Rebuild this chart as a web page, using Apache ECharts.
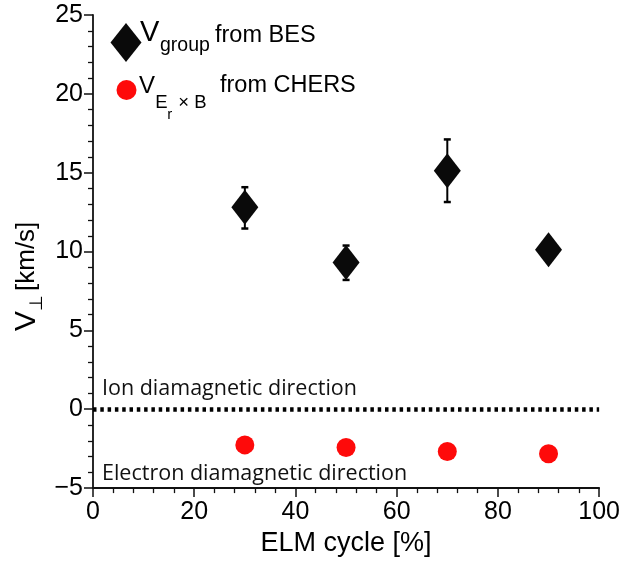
<!DOCTYPE html>
<html>
<head>
<meta charset="utf-8">
<script src="https://cdn.jsdelivr.net/npm/echarts@6/dist/echarts.min.js"></script>
<style>
html,body{margin:0;padding:0;background:#fff;}
#main{width:623px;height:562px;}
</style>
</head>
<body>
<div id="main"></div>
<script>
// ---- data ----
const elmCycle = [30, 50, 70, 90];
const vGroup = [12.81, 9.31, 15.13, 10.11];
const vGroupLow = [11.46, 8.20, 13.14, 10.11];
const vGroupHigh = [14.08, 10.38, 17.11, 10.11];
const vExB = [-2.26, -2.42, -2.68, -2.82];
const xTicks = [0, 20, 40, 60, 80, 100];
const yTicks = [-5, 0, 5, 10, 15, 20, 25];

const chart = echarts.init(document.getElementById('main'), null, {renderer: 'canvas'});
const HELV = "'Liberation Sans', Arial, Helvetica, sans-serif";
const OPEN = "'Open Sans', sans-serif";

const groupData = elmCycle.map((x, i) => [x, vGroup[i]]);
const errData = elmCycle.map((x, i) => [x, vGroupLow[i], vGroupHigh[i]]);
const exbData = elmCycle.map((x, i) => [x, vExB[i]]);

const axisCommon = {
  axisLine: {show: true, onZero: false, lineStyle: {color: '#111', width: 1.8}},
  axisTick: {show: true, inside: false, length: 9, lineStyle: {color: '#111', width: 1.5}},
  minorTick: {show: true, splitNumber: 5, length: 5, lineStyle: {color: '#111', width: 1.3}},
  splitLine: {show: false},
  minorSplitLine: {show: false},
  axisLabel: {color: '#000', fontFamily: HELV, fontSize: 25,
    formatter: function (v) { return String(v).replace('-', '\u2212'); }}
};

chart.setOption({
  animation: false,
  backgroundColor: '#fff',
  grid: {left: 93, right: 21, top: 15, bottom: 68.5, containLabel: false},
  xAxis: Object.assign({}, axisCommon, {
    type: 'value', min: xTicks[0], max: xTicks[xTicks.length - 1], interval: 20,
    axisLabel: Object.assign({}, axisCommon.axisLabel, {margin: 12}),
    name: 'ELM cycle [%]', nameLocation: 'middle', nameGap: 38,
    nameTextStyle: {color: '#000', fontFamily: HELV, fontSize: 27}
  }),
  yAxis: Object.assign({}, axisCommon, {
    type: 'value', min: yTicks[0], max: yTicks[yTicks.length - 1], interval: 5,
    axisLabel: Object.assign({}, axisCommon.axisLabel, {margin: 10})
  }),
  series: [
    {
      type: 'custom', name: 'err', z: 2,
      data: errData,
      renderItem: function (params, api) {
        const x = api.value(0), lo = api.value(1), hi = api.value(2);
        const pLo = api.coord([x, lo]), pHi = api.coord([x, hi]);
        const w = 3.5;
        const st = {stroke: '#000', lineWidth: 2};
        return {type: 'group', children: [
          {type: 'line', shape: {x1: pLo[0], y1: pLo[1], x2: pHi[0], y2: pHi[1]}, style: st},
          {type: 'line', shape: {x1: pLo[0] - w, y1: pLo[1], x2: pLo[0] + w, y2: pLo[1]}, style: {stroke: '#000', lineWidth: 2.5}},
          {type: 'line', shape: {x1: pHi[0] - w, y1: pHi[1], x2: pHi[0] + w, y2: pHi[1]}, style: {stroke: '#000', lineWidth: 2.5}}
        ]};
      }
    },
    {
      type: 'scatter', name: 'Vgroup from BES', z: 3,
      symbol: 'diamond', symbolSize: [27, 35],
      itemStyle: {color: '#0a0a0a', opacity: 1},
      data: groupData
    },
    {
      type: 'scatter', name: 'VExB from CHERS', z: 3,
      symbol: 'circle', symbolSize: 19,
      itemStyle: {color: '#fe0a0a', opacity: 1},
      data: exbData,
      markLine: {
        silent: true, symbol: ['none', 'none'],
        label: {show: false},
        lineStyle: {color: '#000', width: 4.5, type: [3.5, 3.8], cap: 'butt', opacity: 1},
        data: [[{coord: [xTicks[0], 0]}, {coord: [xTicks[xTicks.length - 1], 0]}]]
      }
    }
  ],
  graphic: [
    // y-axis name (rotated)
    {
      type: 'group', x: 27, y: 331, rotation: Math.PI / 2,
      children: [
        {type: 'text', x: 0, y: 0, style: {text: 'V', font: '30px ' + HELV, fill: '#000', verticalAlign: 'middle', align: 'left'}},
        {type: 'text', x: 20, y: 10, style: {text: '⊥', font: '18px ' + HELV, fill: '#000', verticalAlign: 'middle', align: 'left'}},
        {type: 'text', x: 40, y: 0, style: {text: '[km/s]', font: '26px ' + HELV, fill: '#000', verticalAlign: 'middle', align: 'left'}}
      ]
    },
    // legend row 1
    {type: 'polygon', shape: {points: [[126, 23], [141.5, 42.5], [126, 62], [110.5, 42.5]]}, style: {fill: '#0a0a0a'}},
    {type: 'text', x: 140, y: 33, style: {text: 'V', font: '29px ' + HELV, fill: '#000', verticalAlign: 'middle'}},
    {type: 'text', x: 160, y: 46, style: {text: 'group', font: '19.5px ' + HELV, fill: '#000', verticalAlign: 'middle'}},
    {type: 'text', x: 215, y: 35.5, style: {text: 'from BES', font: '23.5px ' + HELV, fill: '#000', verticalAlign: 'middle'}},
    // legend row 2
    {type: 'circle', shape: {cx: 126.5, cy: 90, r: 10}, style: {fill: '#fe0a0a'}},
    {type: 'text', x: 139, y: 86.7, style: {text: 'V', font: '24px ' + HELV, fill: '#000', verticalAlign: 'middle'}},
    {type: 'text', x: 155.3, y: 103.3, style: {text: 'E', font: '18.5px ' + HELV, fill: '#000', verticalAlign: 'middle'}},
    {type: 'text', x: 167.3, y: 115, style: {text: 'r', font: '15px ' + HELV, fill: '#000', verticalAlign: 'middle'}},
    {type: 'text', x: 178.3, y: 103.3, style: {text: '× B', font: '18.5px ' + HELV, fill: '#000', verticalAlign: 'middle'}},
    {type: 'text', x: 220, y: 86, style: {text: 'from CHERS', font: '23.5px ' + HELV, fill: '#000', verticalAlign: 'middle'}},
    // annotations
    {type: 'text', x: 102, y: 389.2, style: {text: 'Ion diamagnetic direction', font: '21.5px ' + OPEN, fill: '#111', verticalAlign: 'middle'}},
    {type: 'text', x: 102, y: 474.2, style: {text: 'Electron diamagnetic direction', font: '21.5px ' + OPEN, fill: '#111', verticalAlign: 'middle'}}
  ]
});
</script>
</body>
</html>
